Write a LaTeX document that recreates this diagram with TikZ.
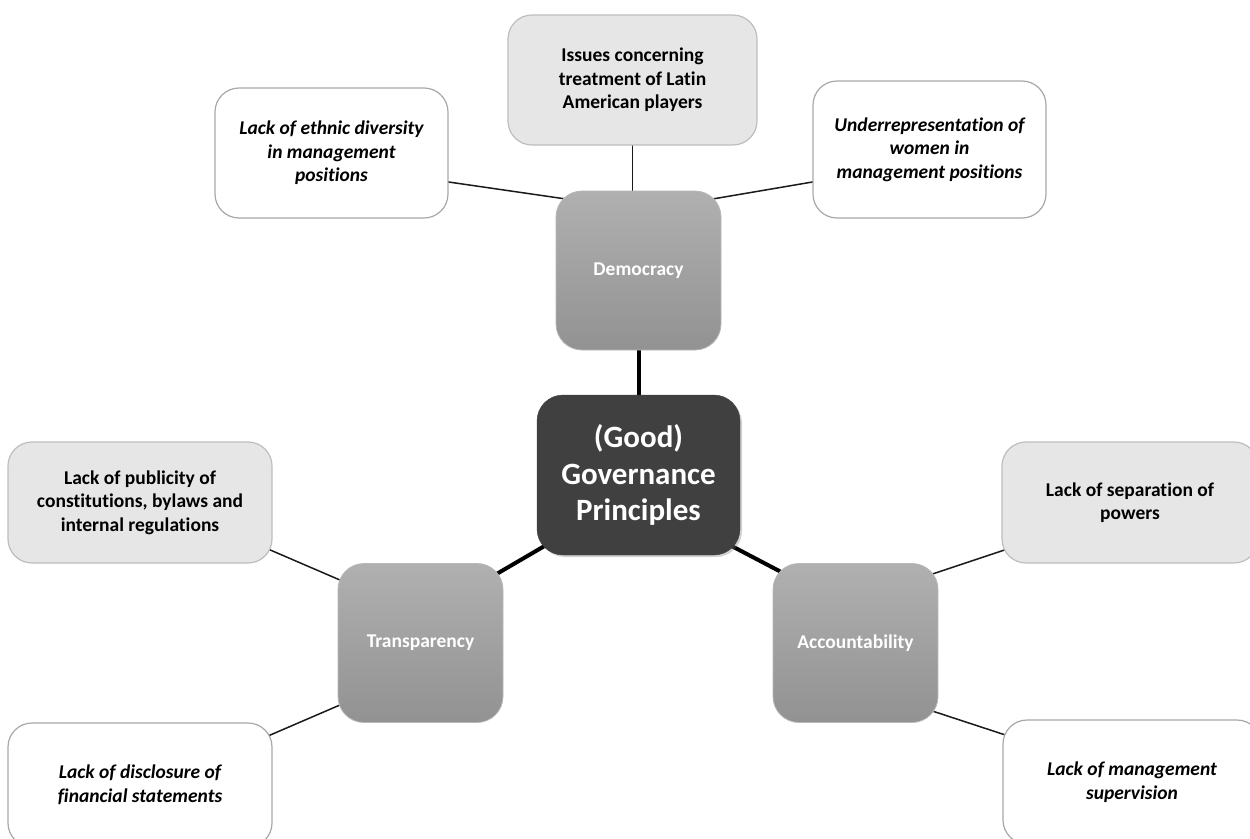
\documentclass[tikz,border=0pt]{standalone}
\usepackage{fontspec}
\setmainfont{Carlito}[Ligatures=NoCommon]
\usetikzlibrary{backgrounds,shadows}
\definecolor{lightbox}{HTML}{E6E6E6}
\definecolor{lightborder}{HTML}{BEBEBE}
\definecolor{whiteborder}{HTML}{A8A8A8}
\definecolor{gradtop}{HTML}{B0B0B0}
\definecolor{gradbot}{HTML}{929292}
\definecolor{darkbox}{HTML}{404040}
\definecolor{linecol}{HTML}{1A1A1A}
\tikzset{
  base/.style={rounded corners=24pt, inner sep=0pt, align=center},
  leafgray/.style={base, fill=lightbox, draw=lightborder, line width=1.2pt,
    font=\bfseries\fontsize{19.5}{23.5}\selectfont, text=black},
  leafwhite/.style={base, fill=white, draw=whiteborder, line width=1.2pt,
    font=\bfseries\itshape\fontsize{19.5}{23.5}\selectfont, text=black},
  principle/.style={base, rounded corners=26pt, minimum width=165pt, minimum height=159pt,
    top color=gradtop, bottom color=gradbot, draw=gradtop!90!white, line width=0.8pt,
    font=\bfseries\fontsize{19.5}{23.5}\selectfont, text=white},
  core/.style={base, rounded corners=26pt, minimum width=203pt, minimum height=160pt,
    fill=darkbox, draw=darkbox, drop shadow={opacity=0.35, shadow xshift=2pt, shadow yshift=-2pt},
    font=\bfseries\fontsize{31}{36.5}\selectfont, text=white},
  thin/.style={draw=linecol, line width=1.5pt, shorten <=-14pt, shorten >=-14pt},
  thick/.style={draw=black, line width=4pt, shorten <=-14pt, shorten >=-14pt},
}
\begin{document}
\begin{tikzpicture}[x=1pt, y=-1pt]
\useasboundingbox (0,0) rectangle (1250,838);
\clip (0,0) rectangle (1250,838);

% core and principles
\node[core] (gov) at (638.5,475) {(Good)\\Governance\\Principles};
\node[principle] (dem) at (638.5,270.5) {Democracy};
\node[principle] (tra) at (420.5,643) {Transparency};
\node[principle] (acc) at (855.5,643) {Accountability};

% leaves
\node[leafgray, minimum width=249pt, minimum height=130pt] (iss) at (632.5,80)
  {Issues concerning\\treatment of Latin\\American players};
\node[leafwhite, minimum width=233pt, minimum height=130pt] (eth) at (331.5,153)
  {Lack of ethnic diversity\\in management\\positions};
\node[leafwhite, minimum width=233pt, minimum height=137pt] (wom) at (929.5,149.5)
  {Underrepresentation of\\women in\\management positions};
\node[leafgray, minimum width=264pt, minimum height=121pt] (pub) at (140,502.5)
  {Lack of publicity of\\constitutions, bylaws and\\internal regulations};
\node[leafwhite, minimum width=264pt, minimum height=124pt] (dis) at (140,785)
  {Lack of disclosure of\\financial statements};
\node[leafgray, minimum width=256pt, minimum height=121pt] (sep) at (1130,502.5)
  {Lack of separation of\\powers};
\node[leafwhite, minimum width=258pt, minimum height=124pt] (sup) at (1132,782)
  {Lack of management\\supervision};

% connectors
\begin{scope}[on background layer]
  \fill[white] (0,0) rectangle (1250,838);
  \draw[thin] (iss.south) -- (iss.south |- dem.north);
  \draw[thin] ([yshift=-29pt]eth.east) -- ([yshift=73pt]dem.west);
  \draw[thin] ([yshift=-32.5pt]wom.west) -- ([yshift=73pt]dem.east);
  \draw[thin] ([yshift=-48.5pt]pub.east) -- ([yshift=64pt]tra.west);
  \draw[thin] ([yshift=51pt]dis.east) -- ([yshift=-63pt]tra.west);
  \draw[thin] ([yshift=-48.5pt]sep.west) -- ([yshift=71pt]acc.east);
  \draw[thin] ([yshift=48pt]sup.west) -- ([yshift=-70pt]acc.east);
  \draw[thick] (gov.north) -- (gov.north |- dem.south);
  \draw[thick] ([yshift=-75.5pt]gov.west) -- ([yshift=73pt]tra.east);
  \draw[thick] ([yshift=-75.5pt]gov.east) -- ([yshift=75.5pt]acc.west);
\end{scope}
\end{tikzpicture}
\end{document}
